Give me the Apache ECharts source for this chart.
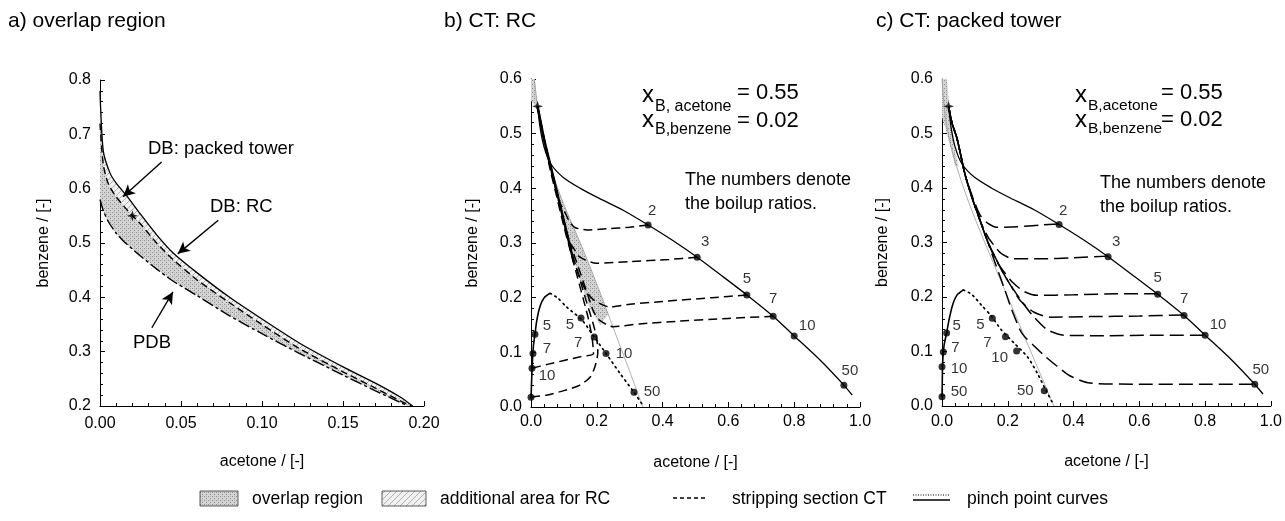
<!DOCTYPE html>
<html><head><meta charset="utf-8">
<script src="https://cdn.jsdelivr.net/npm/echarts@6/dist/echarts.min.js"></script>
<style>html,body{margin:0;padding:0;background:#fff}#c{width:1285px;height:521px}</style>
</head><body><div id="c"></div>
<script>
// ---------------- data ----------------
const aTickX = ['0.00','0.05','0.10','0.15','0.20'];
const aTickY = ['0.2','0.3','0.4','0.5','0.6','0.7','0.8'];
const bcTickX = ['0.0','0.2','0.4','0.6','0.8','1.0'];
const bcTickY = ['0.0','0.1','0.2','0.3','0.4','0.5','0.6'];

// panel a: overlap region (acetone -> x, benzene -> y)
const aSolidX = [0, 0.002, 0.006, 0.01, 0.017, 0.025, 0.035, 0.045, 0.06, 0.08, 0.10, 0.123, 0.15, 0.17, 0.185, 0.193];
const aSolidY = [0.78, 0.67, 0.63, 0.61, 0.585, 0.553, 0.515, 0.482, 0.445, 0.40, 0.36, 0.316, 0.272, 0.242, 0.217, 0.200];
const aDashX  = [0, 0.002, 0.005, 0.01, 0.017, 0.025, 0.035, 0.045, 0.06, 0.08, 0.10, 0.123, 0.15, 0.17, 0.185, 0.192];
const aDashY  = [0.72, 0.645, 0.61, 0.585, 0.56, 0.535, 0.50, 0.47, 0.432, 0.39, 0.35, 0.306, 0.263, 0.233, 0.21, 0.20];
const aPdbX   = [0, 0.002, 0.005, 0.01, 0.015, 0.025, 0.035, 0.045, 0.06, 0.08, 0.10, 0.123, 0.15, 0.17, 0.185, 0.19];
const aPdbY   = [0.58, 0.56, 0.54, 0.518, 0.502, 0.476, 0.452, 0.43, 0.403, 0.366, 0.333, 0.297, 0.257, 0.228, 0.207, 0.20];
const starX = [0.02], starY = [0.55];

// panel b: CT: RC
const pinchX = [0.02, 0.028, 0.04, 0.06, 0.098, 0.15, 0.2, 0.28, 0.356, 0.43, 0.505, 0.58, 0.656, 0.736, 0.80, 0.88, 0.951, 0.976];
const pinchY = [0.55, 0.51, 0.475, 0.445, 0.42, 0.40, 0.384, 0.36, 0.333, 0.305, 0.274, 0.24, 0.205, 0.166, 0.130, 0.085, 0.040, 0.022];
const pinchPtX = [0.356, 0.505, 0.656, 0.736, 0.80, 0.951];
const pinchPtY = [0.333, 0.274, 0.205, 0.166, 0.130, 0.040];
const pinchLbl = ['2', '3', '5', '7', '10', '50'];

const bSmallX = [0, 0.002, 0.004, 0.007, 0.012, 0.018, 0.028, 0.04, 0.058];
const bSmallY = [0.015, 0.05, 0.08, 0.11, 0.133, 0.16, 0.185, 0.20, 0.208];
const bSmallPtX = [0.012, 0.006, 0.003, 0.0];
const bSmallPtY = [0.133, 0.098, 0.071, 0.018];
const bSmallLbl = ['5', '7', '10', ''];
const bDotX = [0.058, 0.08, 0.108, 0.155, 0.192, 0.228, 0.27, 0.313, 0.34];
const bDotY = [0.208, 0.20, 0.183, 0.159, 0.128, 0.098, 0.062, 0.027, 0.003];
const bDotPtX = [0.152, 0.192, 0.228, 0.313];
const bDotPtY = [0.163, 0.128, 0.098, 0.027];
const bDotLbl = ['5', '7', '10', '50'];
const bGrayX = [0.01, 0.02, 0.04, 0.07, 0.10, 0.15, 0.20, 0.25, 0.30, 0.34];
const bGrayY = [0.60, 0.55, 0.49, 0.42, 0.37, 0.30, 0.225, 0.145, 0.065, 0.0];
const bBandX = [0, 0.012, 0.02, 0.04, 0.07, 0.10, 0.15, 0.20, 0.235, 0.21, 0.18, 0.15, 0.12, 0.09, 0.06, 0.035, 0.015, 0];
const bBandY = [0.60, 0.60, 0.55, 0.49, 0.42, 0.37, 0.30, 0.225, 0.17, 0.15, 0.18, 0.23, 0.29, 0.36, 0.44, 0.50, 0.55, 0.56];
const bSteepX = [0.02, 0.04, 0.06, 0.08, 0.10, 0.12, 0.13];
const bSteepY = [0.55, 0.49, 0.44, 0.39, 0.34, 0.29, 0.265];
const bP2X = [0.356, 0.30, 0.23, 0.17, 0.135, 0.119, 0.10, 0.088, 0.07, 0.05, 0.035, 0.02];
const bP2Y = [0.333, 0.329, 0.326, 0.324, 0.328, 0.337, 0.36, 0.373, 0.41, 0.46, 0.50, 0.55];
const bP3X = [0.505, 0.42, 0.30, 0.20, 0.149, 0.13, 0.119, 0.10, 0.08, 0.06, 0.04, 0.02];
const bP3Y = [0.274, 0.27, 0.266, 0.263, 0.274, 0.29, 0.30, 0.34, 0.39, 0.44, 0.49, 0.55];
const bP5X = [0.656, 0.55, 0.40, 0.30, 0.24, 0.19, 0.165, 0.149, 0.13, 0.115, 0.10, 0.08, 0.06, 0.04, 0.02];
const bP5Y = [0.205, 0.20, 0.193, 0.188, 0.183, 0.196, 0.215, 0.236, 0.27, 0.30, 0.34, 0.39, 0.44, 0.49, 0.55];
const bP7X = [0.736, 0.60, 0.45, 0.33, 0.25, 0.21, 0.19, 0.17, 0.15, 0.13, 0.112, 0.095, 0.075, 0.055, 0.04, 0.02];
const bP7Y = [0.166, 0.162, 0.157, 0.152, 0.147, 0.158, 0.175, 0.21, 0.245, 0.28, 0.31, 0.35, 0.40, 0.45, 0.49, 0.55];
const bP10X = [0.003, 0.05, 0.10, 0.15, 0.19, 0.186, 0.175, 0.16, 0.14, 0.12, 0.10, 0.08, 0.06, 0.04, 0.02];
const bP10Y = [0.071, 0.078, 0.085, 0.092, 0.098, 0.125, 0.16, 0.195, 0.24, 0.285, 0.33, 0.38, 0.43, 0.485, 0.55];
const bP50X = [0.0, 0.05, 0.10, 0.149, 0.18, 0.195, 0.203, 0.20, 0.19, 0.175, 0.155, 0.135];
const bP50Y = [0.018, 0.022, 0.03, 0.04, 0.055, 0.075, 0.10, 0.125, 0.15, 0.18, 0.22, 0.26];

// panel c: CT: packed tower
const cSmallX = [0, 0.001, 0.002, 0.006, 0.014, 0.022, 0.032, 0.045, 0.065];
const cSmallY = [0.015, 0.05, 0.08, 0.11, 0.134, 0.16, 0.185, 0.203, 0.213];
const cSmallPtX = [0.014, 0.004, 0.0, 0.0];
const cSmallPtY = [0.134, 0.099, 0.072, 0.017];
const cSmallLbl = ['5', '7', '10', '50'];
const cDotX = [0.065, 0.09, 0.12, 0.15, 0.18, 0.22, 0.26, 0.29, 0.315, 0.337];
const cDotY = [0.213, 0.205, 0.185, 0.165, 0.14, 0.115, 0.09, 0.06, 0.03, 0.005];
const cDotPtX = [0.153, 0.193, 0.227, 0.311];
const cDotPtY = [0.161, 0.127, 0.101, 0.028];
const cDotLbl = ['5', '7', '10', '50'];
const cGrayX = [0.0, 0.01, 0.03, 0.06, 0.09, 0.13, 0.20, 0.27, 0.34];
const cGrayY = [0.60, 0.53, 0.47, 0.41, 0.36, 0.30, 0.20, 0.10, 0.0];
const cBandX = [0, 0.015, 0.022, 0.035, 0.05, 0.04, 0.015, 0];
const cBandY = [0.60, 0.60, 0.55, 0.48, 0.44, 0.44, 0.50, 0.53];
const cP2X = [0.353, 0.30, 0.23, 0.167, 0.14, 0.116, 0.095, 0.07, 0.046, 0.03, 0.02];
const cP2Y = [0.334, 0.332, 0.329, 0.328, 0.335, 0.35, 0.38, 0.425, 0.49, 0.52, 0.55];
const cP3X = [0.505, 0.40, 0.30, 0.216, 0.18, 0.167, 0.14, 0.116, 0.09, 0.07, 0.046, 0.03, 0.02];
const cP3Y = [0.275, 0.272, 0.27, 0.27, 0.28, 0.288, 0.31, 0.34, 0.385, 0.425, 0.49, 0.52, 0.55];
const cP5X = [0.657, 0.55, 0.40, 0.29, 0.25, 0.216, 0.19, 0.167, 0.14, 0.116, 0.09, 0.07, 0.046, 0.03, 0.02];
const cP5Y = [0.206, 0.206, 0.204, 0.203, 0.21, 0.226, 0.245, 0.265, 0.30, 0.34, 0.385, 0.425, 0.49, 0.52, 0.55];
const cP7X = [0.732, 0.60, 0.45, 0.33, 0.28, 0.237, 0.21, 0.186, 0.16, 0.14, 0.116, 0.09, 0.07, 0.046, 0.03, 0.02];
const cP7Y = [0.167, 0.165, 0.164, 0.163, 0.172, 0.194, 0.22, 0.244, 0.275, 0.30, 0.34, 0.385, 0.425, 0.49, 0.52, 0.55];
const cP10X = [0.796, 0.65, 0.50, 0.37, 0.32, 0.277, 0.245, 0.216, 0.19, 0.16, 0.14, 0.116, 0.09, 0.07, 0.046, 0.03, 0.02];
const cP10Y = [0.130, 0.13, 0.129, 0.13, 0.14, 0.165, 0.19, 0.215, 0.24, 0.275, 0.30, 0.34, 0.385, 0.425, 0.49, 0.52, 0.55];
const cP50X = [0.945, 0.80, 0.60, 0.45, 0.39, 0.35, 0.31, 0.277, 0.25, 0.237, 0.21, 0.19, 0.16, 0.14, 0.116, 0.09, 0.07, 0.046, 0.03, 0.02];
const cP50Y = [0.040, 0.04, 0.04, 0.042, 0.055, 0.073, 0.093, 0.112, 0.128, 0.14, 0.18, 0.215, 0.265, 0.30, 0.34, 0.385, 0.425, 0.49, 0.52, 0.55];

// label placements (style, kept separate from data)
const pinchLblOff = [[4,-14],[8,-15],[0,-16],[0,-17],[13,-10],[6,-14]];
const bSmallOff = [[12,-8],[14,-5],[15,8],[0,0]];
const bDotOff = [[-11,7],[-16,6],[18,0],[18,0]];
const cSmallOff = [[10,-7],[12,-4],[17,2],[17,-5]];
const cDotOff = [[-12,7],[-18,6],[-17,7],[-19,0]];

// ---------------- helpers ----------------
const FONT = 'Liberation Sans, Arial, Helvetica, sans-serif';
function pair(xs, ys) { return xs.map((x, i) => [x, ys[i]]); }
function line(xs, ys, g, ls, extra) {
  return Object.assign({
    type: 'line', xAxisIndex: g, yAxisIndex: g, data: pair(xs, ys),
    showSymbol: false, symbol: 'none', smooth: 0.25, silent: true, z: 3,
    lineStyle: Object.assign({ color: '#000', width: 1.2 }, ls)
  }, extra || {});
}
function poly(xs, ys, g, fill) {
  const d = pair(xs, ys);
  return {
    type: 'custom', xAxisIndex: g, yAxisIndex: g, data: d, silent: true, z: 1,
    renderItem: function (params, api) {
      if (params.dataIndex !== 0) return null;
      return { type: 'polygon', shape: { points: d.map(p => api.coord(p)) }, style: { fill: fill, stroke: null } };
    }
  };
}
function pts(xs, ys, lbls, offs, g) {
  return {
    type: 'scatter', xAxisIndex: g, yAxisIndex: g, symbol: 'circle', symbolSize: 7, silent: true, z: 5,
    itemStyle: { color: '#000' },
    data: xs.map((x, i) => ({
      value: [x, ys[i]],
      label: { show: !!lbls[i], formatter: lbls[i], position: 'inside', offset: offs[i], color: '#000', fontSize: 15, fontFamily: FONT }
    }))
  };
}
function makeCanvas(w, h, draw) { const c = document.createElement('canvas'); c.width = w; c.height = h; draw(c.getContext('2d')); return c; }
const stippleCanvas = makeCanvas(4, 4, x => {
  x.fillStyle = '#d4d4d4'; x.fillRect(0, 0, 4, 4);
  x.fillStyle = '#8c8c8c'; x.fillRect(0, 0, 1, 1); x.fillRect(2, 2, 1, 1);
  x.fillStyle = '#b4b4b4'; x.fillRect(2, 0, 1, 1);
});
const hatchCanvas = makeCanvas(6, 6, x => {
  x.fillStyle = '#f0f0f0'; x.fillRect(0, 0, 6, 6);
  x.strokeStyle = '#b0b0b0'; x.lineWidth = 1;
  x.beginPath(); x.moveTo(0, 6); x.lineTo(6, 0); x.stroke();
});
const fillOverlap = { type: 'pattern', image: stippleCanvas, repeat: 'repeat' };
const fillAdd = { type: 'pattern', image: hatchCanvas, repeat: 'repeat' };

function tickFmt(labels, min, step) { return v => { const i = Math.round((v - min) / step); return labels[i] !== undefined ? labels[i] : ''; }; }
function axisBase(g, min, max, step, labels, name, gap, margin) {
  return {
    type: 'value', gridIndex: g, min: min, max: max, interval: step,
    name: name, nameLocation: 'middle', nameGap: gap,
    nameTextStyle: { color: '#000', fontSize: 16, fontFamily: FONT },
    axisLine: { show: true, onZero: false, lineStyle: { color: '#000', width: 1 } },
    axisTick: { show: true, inside: true, length: 5, lineStyle: { color: '#000' } },
    minorTick: { show: true, splitNumber: 5, length: 3, lineStyle: { color: '#000' } },
    splitLine: { show: false },
    axisLabel: { color: '#000', fontSize: 16, fontFamily: FONT, margin: margin, formatter: tickFmt(labels, min, step) }
  };
}
const STAR = 'path://M0,-10 L2.5,-2.5 L10,0 L2.5,2.5 L0,10 L-2.5,2.5 L-10,0 L-2.5,-2.5 Z';
function star(g) {
  return { type: 'scatter', xAxisIndex: g, yAxisIndex: g, symbol: STAR, symbolSize: 11, silent: true, z: 6,
    itemStyle: { color: '#000' }, data: pair(starX, starY) };
}

const SOLID = { type: 'solid', width: 1.3 };
const DASH_B = { type: [9, 5], width: 1.5 };
const DASH_C = { type: [14, 6], width: 1.5 };
const DOT = { type: [1.5, 4], width: 1.7, cap: 'round' };
const GRAY = { color: '#9a9a9a', width: 0.8, type: 'solid' };

// ---------------- series ----------------
const series = [
  // panel a
  poly(aSolidX.concat(aDashX.slice().reverse()), aSolidY.concat(aDashY.slice().reverse()), 0, fillAdd),
  poly(aDashX.concat(aPdbX.slice().reverse()), aDashY.concat(aPdbY.slice().reverse()), 0, fillOverlap),
  line(aSolidX, aSolidY, 0, SOLID),
  line(aDashX, aDashY, 0, { type: [7, 4], width: 1.4 }),
  line(aPdbX, aPdbY, 0, { type: [12, 3, 3, 3], width: 1.4 }),
  star(0),
  {
    type: 'line', xAxisIndex: 0, yAxisIndex: 0, data: [], silent: true,
    markLine: {
      silent: true, symbol: ['none', 'arrow'], symbolSize: [9, 12], label: { show: false },
      lineStyle: { color: '#000', width: 1.4, type: 'solid' },
      data: [
        [{ coord: [0.038, 0.649] }, { coord: [0.0142, 0.585] }],
        [{ coord: [0.073, 0.542] }, { coord: [0.048, 0.48] }],
        [{ coord: [0.032, 0.344] }, { coord: [0.045, 0.41] }]
      ]
    }
  },
  // panel b
  poly(bBandX, bBandY, 1, fillOverlap),
  line(bGrayX, bGrayY, 1, GRAY),
  line(pinchX, pinchY, 1, SOLID),
  line(bSmallX, bSmallY, 1, { type: 'solid', width: 1.6 }),
  line(bDotX, bDotY, 1, DOT),
  line(bSteepX, bSteepY, 1, { type: 'solid', width: 2.4 }),
  line(bP2X, bP2Y, 1, DASH_B), line(bP3X, bP3Y, 1, DASH_B), line(bP5X, bP5Y, 1, DASH_B),
  line(bP7X, bP7Y, 1, DASH_B), line(bP10X, bP10Y, 1, DASH_B), line(bP50X, bP50Y, 1, DASH_B),
  pts(pinchPtX, pinchPtY, pinchLbl, pinchLblOff, 1),
  pts(bSmallPtX, bSmallPtY, bSmallLbl, bSmallOff, 1),
  pts(bDotPtX, bDotPtY, bDotLbl, bDotOff, 1),
  star(1),
  // panel c
  poly(cBandX, cBandY, 2, fillOverlap),
  line(cGrayX, cGrayY, 2, GRAY),
  line(pinchX, pinchY, 2, SOLID),
  line(cSmallX, cSmallY, 2, { type: 'solid', width: 1.6 }),
  line(cDotX, cDotY, 2, DOT),
  line(cP2X, cP2Y, 2, DASH_C), line(cP3X, cP3Y, 2, DASH_C), line(cP5X, cP5Y, 2, DASH_C),
  line(cP7X, cP7Y, 2, DASH_C), line(cP10X, cP10Y, 2, DASH_C), line(cP50X, cP50Y, 2, DASH_C),
  pts(pinchPtX, pinchPtY, pinchLbl, pinchLblOff, 2),
  pts(cSmallPtX, cSmallPtY, cSmallLbl, cSmallOff, 2),
  pts(cDotPtX, cDotPtY, cDotLbl, cDotOff, 2),
  star(2)
];

// ---------------- graphic (titles, annotations, legend) ----------------
function txt(x, y, s, size, align) {
  return { type: 'text', x: x, y: y, silent: true,
    style: { text: s, fill: '#000', font: size + 'px ' + FONT, textAlign: align || 'left', textVerticalAlign: 'middle' } };
}
const graphic = [
  txt(8, 21, 'a) overlap region', 21),
  txt(444, 21, 'b) CT: RC', 21),
  txt(876, 21, 'c) CT: packed tower', 21),
  txt(148, 149, 'DB: packed tower', 18.5),
  txt(210, 207, 'DB: RC', 18.5),
  txt(133, 343, 'PDB', 18.5),
  txt(685, 180, 'The numbers denote', 18),
  txt(685, 204, 'the boilup ratios.', 18),
  txt(1100, 183, 'The numbers denote', 18),
  txt(1100, 207, 'the boilup ratios.', 18),
  // x_B blocks, panel b
  txt(642, 95, 'x', 24), txt(655, 107, 'B, acetone', 16), txt(737, 93, '= 0.55', 22),
  txt(642, 120, 'x', 24), txt(655, 130, 'B,benzene', 16), txt(737, 121, '= 0.02', 22),
  // x_B blocks, panel c
  txt(1075, 95, 'x', 24), txt(1088, 106, 'B,acetone', 15.5), txt(1161, 93, '= 0.55', 22),
  txt(1075, 120, 'x', 24), txt(1088, 129, 'B,benzene', 15.5), txt(1161, 120, '= 0.02', 22),
  // legend
  { type: 'rect', silent: true, shape: { x: 200, y: 491, width: 38, height: 15 }, style: { fill: fillOverlap, stroke: '#333', lineWidth: 0.8 } },
  txt(252, 499, 'overlap region', 17.5),
  { type: 'rect', silent: true, shape: { x: 382, y: 491, width: 44, height: 15 }, style: { fill: fillAdd, stroke: '#333', lineWidth: 0.8 } },
  txt(440, 499, 'additional area for RC', 17.5),
  { type: 'line', silent: true, shape: { x1: 673, y1: 498, x2: 707, y2: 498 }, style: { stroke: '#000', lineWidth: 1.3, lineDash: [4, 3] } },
  txt(732, 499, 'stripping section CT', 17.5),
  { type: 'line', silent: true, shape: { x1: 913, y1: 495, x2: 950, y2: 495 }, style: { stroke: '#000', lineWidth: 1, lineDash: [1, 1.5] } },
  { type: 'line', silent: true, shape: { x1: 913, y1: 500, x2: 950, y2: 500 }, style: { stroke: '#000', lineWidth: 1.3 } },
  txt(967, 499, 'pinch point curves', 17.5)
];

const option = {
  animation: false,
  backgroundColor: '#fff',
  textStyle: { fontFamily: FONT },
  grid: [
    { left: 100, top: 80, width: 324, height: 326 },
    { left: 531, top: 79, width: 329, height: 328 },
    { left: 942, top: 79, width: 329, height: 327 }
  ],
  xAxis: [
    axisBase(0, 0, 0.2, 0.05, aTickX, 'acetone / [-]', 48, 10),
    axisBase(1, 0, 1, 0.2, bcTickX, 'acetone / [-]', 48, 7),
    axisBase(2, 0, 1, 0.2, bcTickX, 'acetone / [-]', 48, 8)
  ],
  yAxis: [
    axisBase(0, 0.2, 0.8, 0.1, aTickY, 'benzene / [-]', 48, 9),
    axisBase(1, 0, 0.6, 0.1, bcTickY, 'benzene / [-]', 50, 9),
    axisBase(2, 0, 0.6, 0.1, bcTickY, 'benzene / [-]', 51, 9)
  ],
  series: series,
  graphic: graphic
};
const chart = echarts.init(document.getElementById('c'));
chart.setOption(option);
</script>
</body></html>
